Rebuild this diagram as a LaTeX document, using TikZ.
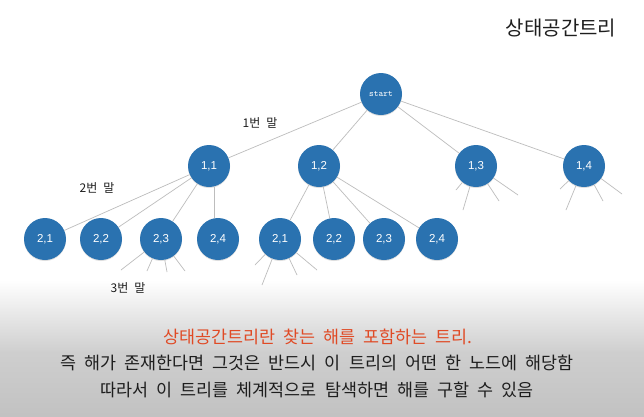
\documentclass[tikz,border=0pt]{standalone}
\usepackage{fontspec}
\setmainfont{Liberation Sans}
\newfontfamily\kor{Noto Sans CJK KR}
\newcommand\labfnt{\kor\fontsize{12}{14}\selectfont\spaceskip=6pt\relax}
\newcommand\bodyfnt{\kor\fontsize{17.4}{19}\selectfont\spaceskip=8pt\relax}
\usetikzlibrary{shadows}
\definecolor{nodeblue}{HTML}{2A72B0}
\definecolor{edgegray}{HTML}{BDBDBD}
\definecolor{redtxt}{HTML}{E04A25}
\definecolor{txtblack}{HTML}{1E1E1E}
\begin{document}
\begin{tikzpicture}[x=1pt,y=-1pt,
  tnode/.style={circle,fill=nodeblue,minimum size=42pt,inner sep=0pt,text=white,
    font=\fontsize{11.5}{12}\selectfont,
    drop shadow={shadow xshift=0pt,shadow yshift=-1pt,opacity=0.25}},
  edge/.style={draw=edgegray,line width=0.7pt},
  lab/.style={font=\labfnt,text=txtblack},
  body/.style={font=\bodyfnt,text=txtblack}]
\useasboundingbox (0,0) rectangle (644,416);
\fill[white] (0,0) rectangle (644,416);
\shade[top color=white,bottom color=black!19] (0,280) rectangle (644,352);
\shade[top color=black!19,bottom color=black!24] (0,351.5) rectangle (644,416);

% nodes
\node[tnode,font=\ttfamily\fontsize{9}{10}\selectfont] (s) at (381,94) {start};
\node[tnode] (a1) at (209,166) {1,1};
\node[tnode] (a2) at (319,166) {1,2};
\node[tnode] (a3) at (476,166) {1,3};
\node[tnode] (a4) at (584,166) {1,4};
\node[tnode] (b1) at (45,239) {2,1};
\node[tnode] (b2) at (101,239) {2,2};
\node[tnode] (b3) at (161,239) {2,3};
\node[tnode] (b4) at (218,239) {2,4};
\node[tnode] (c1) at (280,239) {2,1};
\node[tnode] (c2) at (334,239) {2,2};
\node[tnode] (c3) at (384,239) {2,3};
\node[tnode] (c4) at (437,239) {2,4};

% stub end points
\coordinate (a3s1) at (456,190);
\coordinate (a3s2) at (463,210);
\coordinate (a3s3) at (499,201);
\coordinate (a3s4) at (518,195);
\coordinate (a4s1) at (560,189);
\coordinate (a4s2) at (566,210);
\coordinate (a4s3) at (603,201);
\coordinate (a4s4) at (622,194);
\coordinate (b3s1) at (121,270);
\coordinate (b3s2) at (147,271);
\coordinate (b3s3) at (167,272);
\coordinate (b3s4) at (185,271);
\coordinate (c1s1) at (255,265);
\coordinate (c1s2) at (262,285);
\coordinate (c1s3) at (297,275);
\coordinate (c1s4) at (317,270);

\foreach \t in {a1,a2,a3,a4} \path[edge] (s) -- (\t);
\foreach \t in {b1,b2,b3} \path[edge] (a1) -- (\t);
\path[edge] (a1.south -| 214,0) -- (b4.north -| 214,0);
\foreach \t in {c1,c2,c3,c4} \path[edge] (a2) -- (\t);
\foreach \t in {1,2,3,4} {
  \path[edge] (a3) -- (a3s\t);
  \path[edge] (a4) -- (a4s\t);
  \path[edge] (b3) -- (b3s\t);
  \path[edge] (c1) -- (c1s\t);
}

% labels
\node[lab] (l1) at (260,123) {1번 말};
\node[lab] (l2) at (97,188) {2번 말};
\node[lab] (l3) at (128,288) {3번 말};
\node[font=\kor\fontsize{20}{22}\selectfont,text=txtblack] (title) at (561,28) {상태공간트리};

\node[body,text=redtxt] (t1) at (318,337) {상태공간트리란 찾는 해를 포함하는 트리.};
\node[body] (t2) at (317,363) {즉 해가 존재한다면 그것은 반드시 이 트리의 어떤 한 노드에 해당함};
\node[body] (t3) at (317,390) {따라서 이 트리를 체계적으로 탐색하면 해를 구할 수 있음};
\end{tikzpicture}
\end{document}
